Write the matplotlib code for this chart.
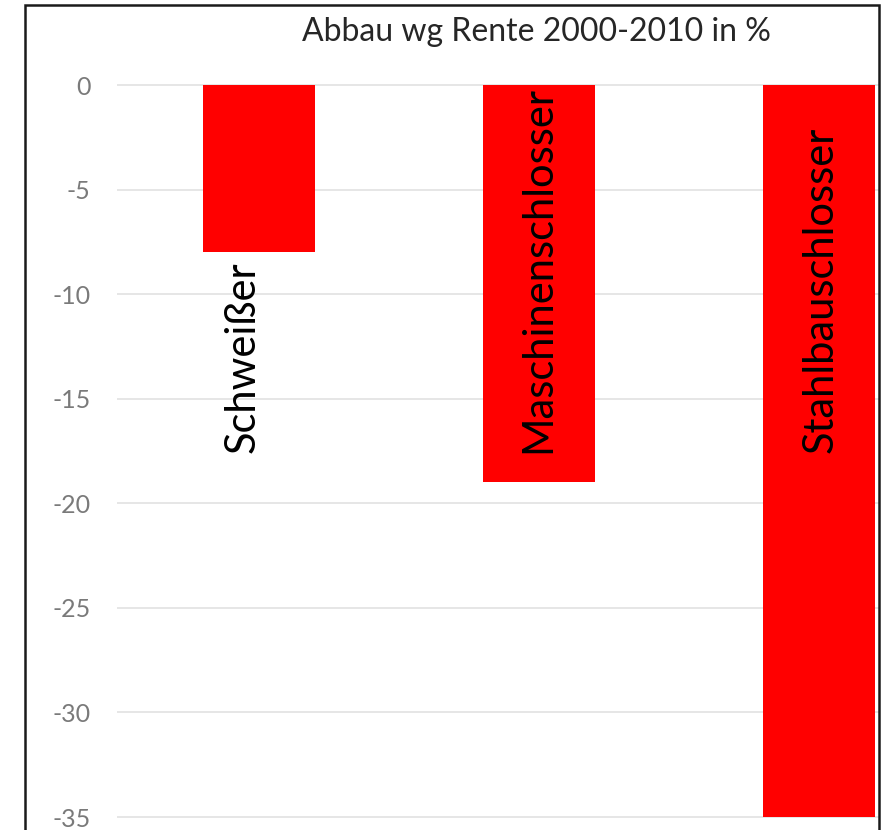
import matplotlib
matplotlib.use('Agg')
import matplotlib.pyplot as plt
from matplotlib.patches import Rectangle

# Daten
categories = ['Schweißer', 'Maschinenschlosser', 'Stahlbauschlosser']
values = [-8, -19, -35]
yticks = [0, -5, -10, -15, -20, -25, -30, -35]

plt.rcParams['font.family'] = ['Lato', 'DejaVu Sans']

W, H = 887, 830
fig = plt.figure(figsize=(W / 100, H / 100), dpi=100)

# Achse in Pixelkoordinaten festlegen
left, right, top, bottom = 117, 879, 80, 830
ax = fig.add_axes([left / W, 1 - bottom / H, (right - left) / W, (bottom - top) / H])

x = list(range(len(categories)))
ax.bar(x, values, width=0.4, color='#ff0000', zorder=2)

ax.set_xlim(-0.506, 2.214)
ax.set_ylim(-35.62, 0.24)
ax.set_yticks(yticks)
ax.set_yticklabels([str(v) for v in yticks])
ax.tick_params(axis='y', length=0, pad=19, labelsize=18, labelcolor='#7a7a7a')
ax.set_xticks([])
ax.grid(axis='y', color='#e2e2e2', linewidth=1.2, zorder=0)
for s in ax.spines.values():
    s.set_visible(False)

# Beschriftungen senkrecht
label_dx = [-0.057, -0.004, 0.004]
for i, name in enumerate(categories):
    ax.text(x[i] + label_dx[i], -17.6, name, rotation=90, ha='center', va='bottom',
            fontsize=30, color='black', zorder=3)

# Titel
fig.text(536 / W, 1 - 32 / H, 'Abbau wg Rente 2000-2010 in %', ha='center', va='center',
         fontsize=23, color='#262626')

# Rahmen
fig.patches.append(Rectangle((25 / W, -0.05), (879 - 25) / W, 1.05 - 5 / H,
                             transform=fig.transFigure, fill=False,
                             edgecolor='#1a1a1a', linewidth=1.8))

fig.savefig('out.png', dpi=100)
